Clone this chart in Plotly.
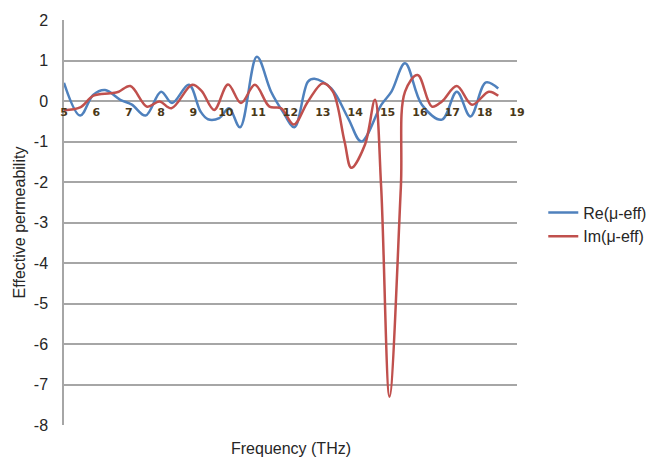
import plotly.graph_objects as go

# Frequency (THz) and values
re_freq = [5.0, 5.5, 5.9, 6.27, 6.74, 7.1, 7.52, 8.0, 8.34, 8.86, 9.22, 9.45, 9.8, 10.1, 10.44,
           10.96, 11.4, 11.76, 12.12, 12.54, 12.74, 13.26, 13.78, 14.19, 14.81, 15.12, 15.54,
           16.06, 16.68, 17.14, 17.56, 18.04, 18.42]
re_val = [0.45, -0.36, 0.15, 0.27, 0.03, -0.09, -0.36, 0.23, -0.05, 0.40, -0.26, -0.45, -0.42, -0.18, -0.65,
          1.09, 0.23, -0.26, -0.65, 0.48, 0.55, 0.31, -0.42, -1.0, -0.09, 0.23, 0.93,
          -0.09, -0.46, 0.23, -0.38, 0.46, 0.31]

im_freq = [5.0, 5.5, 5.91, 6.43, 6.69, 7.05, 7.57, 7.95, 8.32, 8.96, 9.25, 9.64, 10.07, 10.47, 10.9,
           11.35, 11.71, 12.1, 12.54, 13.0, 13.31, 13.67, 13.88, 14.3, 14.61, 14.8, 15.06, 15.41,
           15.54, 15.93, 16.37, 16.68, 17.14, 17.61, 18.13, 18.42]
im_val = [-0.23, -0.16, 0.13, 0.19, 0.23, 0.37, -0.14, -0.01, -0.18, 0.40, 0.25, -0.22, 0.41, -0.05, 0.40,
          -0.14, -0.18, -0.58, -0.01, 0.44, 0.23, -1.0, -1.65, -1.08, 0.03, -2.1, -7.3, -2.14,
          0.23, 0.64, -0.14, -0.01, 0.37, -0.09, 0.23, 0.13]

x_ticks = list(range(5, 20))
y_ticks = list(range(-8, 3))

fig = go.Figure()
fig.add_trace(go.Scatter(x=re_freq, y=re_val, mode="lines", name="Re(μ-eff)",
                         line=dict(color="#4F81BD", width=2.5, shape="spline", smoothing=1.0)))
fig.add_trace(go.Scatter(x=im_freq, y=im_val, mode="lines", name="Im(μ-eff)",
                         line=dict(color="#C0504D", width=2.5, shape="spline", smoothing=1.0)))

fig.update_layout(
    width=670, height=459,
    margin=dict(l=64, r=153, t=17, b=34),
    paper_bgcolor="white", plot_bgcolor="white",
    font=dict(family="Liberation Sans, Arial, sans-serif", size=16, color="#262626"),
    showlegend=True,
    legend=dict(x=1.058, y=0.495, xanchor="left", yanchor="middle",
                font=dict(size=16, color="#262626"), bgcolor="rgba(0,0,0,0)"),
    xaxis=dict(range=[5, 19], tickvals=x_ticks, ticktext=[str(v) for v in x_ticks],
               anchor="free", position=0.8, showgrid=False, zeroline=False, showline=False,
               ticks="", ticklabelstandoff=3,
               tickfont=dict(family="DejaVu Sans", size=11, color="#4a3818", weight="bold")),
    yaxis=dict(range=[-8, 2], tickvals=y_ticks, ticktext=[str(v) for v in y_ticks],
               showgrid=True, gridcolor="#a6a6a6", gridwidth=1.5, zeroline=False,
               showline=True, linecolor="#a6a6a6", linewidth=1.5, ticks="",
               ticklabelstandoff=11,
               tickfont=dict(size=16, color="#262626"),
               title=dict(text="Effective permeability", font=dict(size=16, color="#262626"),
                          standoff=4)),
    annotations=[dict(text="Frequency (THz)", x=0.5, y=-0.057, xref="paper", yref="paper",
                      xanchor="center", yanchor="middle", showarrow=False,
                      font=dict(size=16, color="#262626"))],
)

fig.write_html("out.html")
